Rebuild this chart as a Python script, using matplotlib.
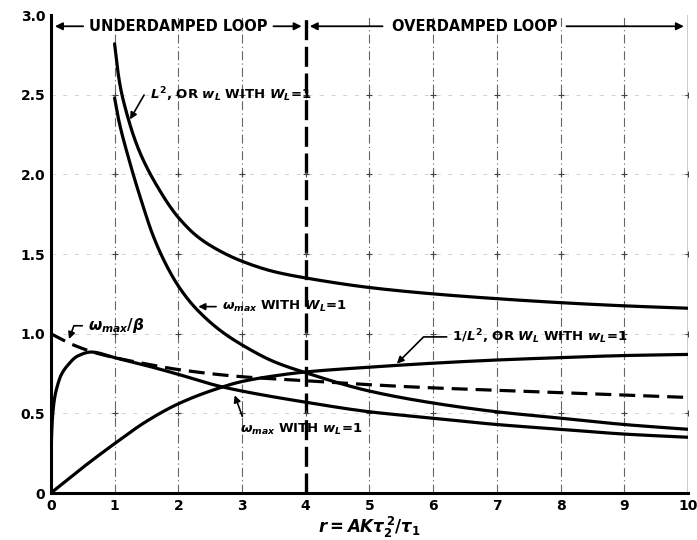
import matplotlib
matplotlib.use("Agg")
import matplotlib.pyplot as plt
import numpy as np

# ---- data ----
r_L2 = [1.0, 1.05, 1.1, 1.2, 1.3, 1.4, 1.55, 1.7, 1.85, 2.0, 2.3, 2.65, 3.0, 3.5, 4.0, 5.0, 6.0, 7.0, 8.0, 9.0, 10.0]
L2 = [2.82, 2.65, 2.53, 2.37, 2.24, 2.135, 2.01, 1.905, 1.81, 1.73, 1.61, 1.52, 1.455, 1.39, 1.35, 1.29, 1.25, 1.22, 1.195, 1.175, 1.16]

r_wmaxW = [1.0, 1.05, 1.1, 1.2, 1.3, 1.4, 1.6, 1.8, 2.0, 2.25, 2.66, 3.0, 3.5, 4.0, 5.0, 6.0, 7.0, 8.0, 9.0, 10.0]
wmaxW = [2.48, 2.37, 2.28, 2.13, 1.99, 1.86, 1.62, 1.44, 1.30, 1.17, 1.02, 0.93, 0.825, 0.755, 0.64, 0.565, 0.51, 0.47, 0.43, 0.40]

r_wmaxw = [0.0, 0.005, 0.015, 0.03, 0.06, 0.1, 0.16, 0.26, 0.42, 0.63, 1.0, 1.5, 2.0, 2.6, 3.0, 4.0, 5.0, 6.0, 7.0, 8.0, 9.0, 10.0]
wmaxw = [0.0, 0.25, 0.40, 0.50, 0.60, 0.67, 0.74, 0.80, 0.86, 0.885, 0.85, 0.80, 0.745, 0.675, 0.64, 0.57, 0.51, 0.47, 0.43, 0.40, 0.37, 0.35]

r_beta = [0.0, 0.35, 0.7, 1.0, 1.5, 2.0, 3.0, 4.0, 5.0, 6.0, 7.0, 8.0, 9.0, 10.0]
wbeta = [1.0, 0.93, 0.88, 0.85, 0.81, 0.775, 0.73, 0.705, 0.68, 0.66, 0.645, 0.63, 0.615, 0.60]

r_invL2 = [0.0, 0.5, 1.0, 1.5, 2.0, 2.5, 3.0, 3.5, 4.0, 5.0, 6.0, 7.0, 8.0, 9.0, 10.0]
invL2 = [0.0, 0.16, 0.31, 0.45, 0.56, 0.64, 0.70, 0.735, 0.76, 0.79, 0.815, 0.835, 0.85, 0.863, 0.87]

xticks = list(range(0, 11))
yticks = [0, 0.5, 1.0, 1.5, 2.0, 2.5, 3.0]
ytick_labels = ["0", "0.5", "1.0", "1.5", "2.0", "2.5", "3.0"]

plt.rcParams["mathtext.fontset"] = "custom"
plt.rcParams["mathtext.rm"] = "DejaVu Sans:bold"
plt.rcParams["mathtext.it"] = "DejaVu Sans:bold:italic"
plt.rcParams["mathtext.bf"] = "DejaVu Sans:bold"


def pchip_draw(x, y):
    """Monotone cubic curve through the read points (for smooth drawing only)."""
    x = np.asarray(x, float)
    y = np.asarray(y, float)
    h = np.diff(x)
    d = np.diff(y) / h
    m = np.zeros_like(y)
    for k in range(1, len(x) - 1):
        if d[k - 1] * d[k] > 0:
            w1 = 2 * h[k] + h[k - 1]
            w2 = h[k] + 2 * h[k - 1]
            m[k] = (w1 + w2) / (w1 / d[k - 1] + w2 / d[k])
    m[0] = d[0]
    m[-1] = d[-1]
    xs, ys = [], []
    for k in range(len(x) - 1):
        t = np.linspace(0, 1, 30, endpoint=False)
        h00 = 2 * t**3 - 3 * t**2 + 1
        h10 = t**3 - 2 * t**2 + t
        h01 = -2 * t**3 + 3 * t**2
        h11 = t**3 - t**2
        xs.append(x[k] + t * h[k])
        ys.append(h00 * y[k] + h10 * h[k] * m[k] + h01 * y[k + 1] + h11 * h[k] * m[k + 1])
    xs.append([x[-1]])
    ys.append([y[-1]])
    return np.concatenate(xs), np.concatenate(ys)


# ---- figure ----
fig = plt.figure(figsize=(6.97, 5.40), dpi=100)
ax = fig.add_axes([0.073, 0.087, 0.914, 0.885])
ax.set_xlim(0, 10)
ax.set_ylim(0, 3.0)

# grid
for xv in xticks[1:]:
    if xv == 4:
        ax.axvline(xv, color="black", lw=2.4, ls=(0, (6, 2)), zorder=1)
    elif xv == 10:
        ax.axvline(xv, color="black", lw=1.0, zorder=1)
    else:
        ax.axvline(xv, color="#666666", lw=0.8, ls=(0, (8, 3, 1, 3)), zorder=1)
for yv in yticks[1:-1]:
    ax.axhline(yv, color="#cccccc", lw=0.6, ls=(0, (5, 9)), zorder=1)
    for xv in xticks[1:]:
        ax.plot(xv, yv, marker="+", color="#444444", ms=4, mew=0.8, zorder=1)

lw = 2.3
for xs, ys in [(r_L2, L2), (r_wmaxW, wmaxW), (r_wmaxw, wmaxw), (r_invL2, invL2)]:
    sx, sy = pchip_draw(xs, ys)
    ax.plot(sx, sy, color="black", lw=lw, solid_capstyle="round", zorder=3)
sx, sy = pchip_draw(r_beta, wbeta)
ax.plot(sx, sy, color="black", lw=lw, ls=(0, (5, 2.5)), zorder=3)

# spines
ax.spines["top"].set_visible(False)
ax.spines["right"].set_visible(False)
ax.spines["left"].set_linewidth(2.2)
ax.spines["bottom"].set_linewidth(2.2)

ax.set_xticks(xticks)
ax.set_xticklabels([str(v) for v in xticks], fontweight="bold", fontsize=10)
ax.set_yticks(yticks)
ax.set_yticklabels(ytick_labels, fontweight="bold", fontsize=10)
ax.tick_params(length=0, pad=4)
ax.set_xlabel(r"$r = AK\tau_2^{\,2}/\tau_1$", fontsize=12, labelpad=2)

# region arrows at top
ya = 2.93
fs_top = 10.5
ax.text(2.0, ya, "UNDERDAMPED LOOP", ha="center", va="center", fontsize=fs_top, fontweight="bold")
ax.text(6.65, ya, "OVERDAMPED LOOP", ha="center", va="center", fontsize=fs_top, fontweight="bold")
ap = dict(arrowstyle="-|>", color="black", lw=1.3, mutation_scale=11)
ax.annotate("", xy=(0.02, ya), xytext=(0.55, ya), arrowprops=ap)
ax.annotate("", xy=(3.98, ya), xytext=(3.45, ya), arrowprops=ap)
ax.annotate("", xy=(4.02, ya), xytext=(5.25, ya), arrowprops=ap)
ax.annotate("", xy=(9.98, ya), xytext=(8.05, ya), arrowprops=ap)

# curve labels
fs = 9.5
lp = dict(arrowstyle="-|>", color="black", lw=1.2, mutation_scale=10)
ax.annotate(r"$L^2$, OR $w_L$ WITH $W_L$=1", xy=(1.22, 2.33), xytext=(1.55, 2.5),
            fontsize=fs, fontweight="bold", va="center", ha="left",
            arrowprops=dict(lp, connectionstyle="angle,angleA=0,angleB=60"))
ax.annotate(r"$\omega_{max}$ WITH $W_L$=1", xy=(2.27, 1.17), xytext=(2.68, 1.17),
            fontsize=fs, fontweight="bold", va="center", ha="left", arrowprops=lp)
ax.annotate(r"$\omega_{max}/\beta$", xy=(0.27, 0.95), xytext=(0.58, 1.05),
            fontsize=11, fontweight="bold", va="center", ha="left",
            arrowprops=dict(lp, connectionstyle="angle,angleA=0,angleB=70"))
ax.annotate(r"$\omega_{max}$ WITH $w_L$=1", xy=(2.87, 0.63), xytext=(2.97, 0.40),
            fontsize=fs, fontweight="bold", va="center", ha="left",
            arrowprops=dict(lp, connectionstyle="angle,angleA=180,angleB=-70"))
ax.annotate(r"1/$L^2$, OR $W_L$ WITH $w_L$=1", xy=(5.4, 0.80), xytext=(6.3, 0.98),
            fontsize=fs, fontweight="bold", va="center", ha="left",
            arrowprops=dict(lp, connectionstyle="angle,angleA=0,angleB=45"))

fig.savefig("out.png", dpi=100)
